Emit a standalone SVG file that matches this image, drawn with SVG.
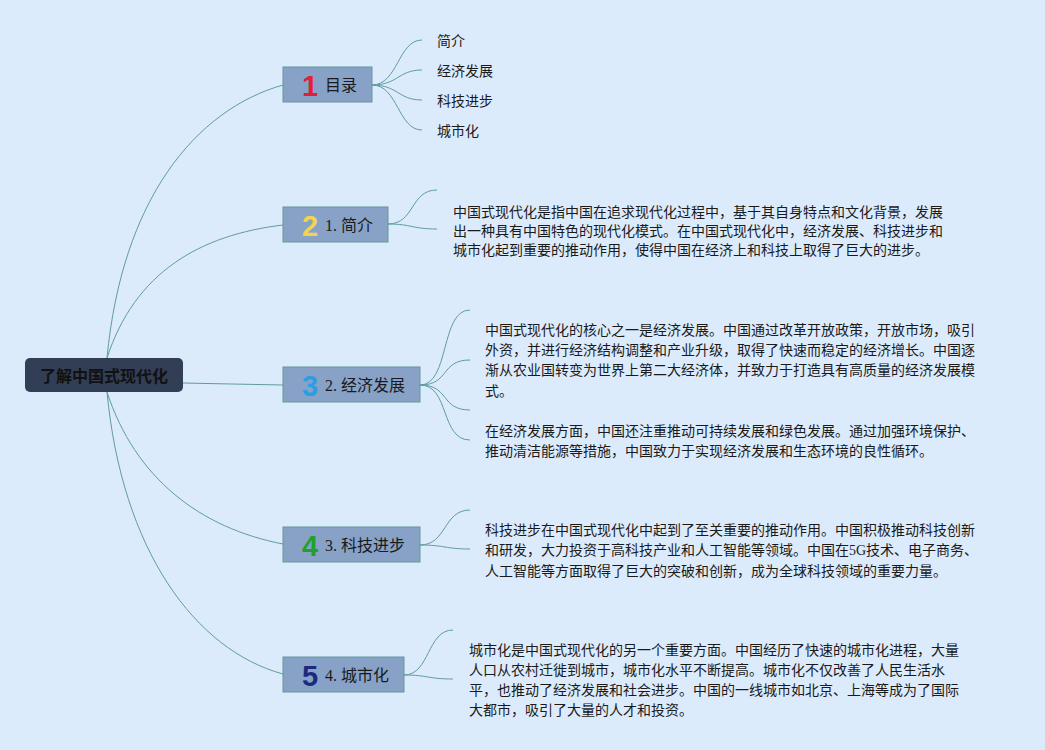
<svg xmlns="http://www.w3.org/2000/svg" width="1045" height="750" viewBox="0 0 1045 750">
<style>
.bg{fill:#dcebfb}
.c{fill:none;stroke:#5f9c9f;stroke-width:1}
.box{fill:#87a2c6;stroke:#5e9a9c;stroke-width:1}
.num{font-family:"Liberation Sans",Arial,sans-serif;font-weight:bold;font-size:29px;text-anchor:middle}
.lbl{font-family:"Liberation Serif","Noto Sans CJK SC",sans-serif;font-size:16px;fill:#1a1a1a}
.sub{font-family:"Liberation Serif","Noto Sans CJK SC",sans-serif;font-size:14px;fill:#1a1a1a}
.p{font-family:"Liberation Serif","Noto Sans CJK SC",sans-serif;font-size:14px;fill:#1a1a1a}
</style>
<rect class="bg" x="0" y="0" width="1045" height="750"/>
<g id="connectors">
<path class="c" d="M107,358 C122,200 195,110 283,85"/>
<path class="c" d="M107,358 C135,272 200,235 283,225"/>
<path class="c" d="M183,383 Q230,384 283,385"/>
<path class="c" d="M107,392 C135,478 200,528 283,544"/>
<path class="c" d="M107,392 C122,550 195,650 283,674"/>
<path class="c" d="M372,85 C398,85 398,40 422,40"/>
<path class="c" d="M372,85 C398,85 398,70 422,70"/>
<path class="c" d="M372,85 C398,85 398,100 422,100"/>
<path class="c" d="M372,85 C398,85 398,130 422,130"/>
<path class="c" d="M388,224 C415,224 410,190 437,190"/>
<path class="c" d="M388,224 C412,224 412,229 437,229"/>
<path class="c" d="M420,385 C450,385 440,310 470,310"/>
<path class="c" d="M420,385 C450,385 440,360 470,360"/>
<path class="c" d="M420,385 C450,385 440,410 470,410"/>
<path class="c" d="M420,385 C450,385 440,440 470,440"/>
<path class="c" d="M420,545 C447,545 443,510 470,510"/>
<path class="c" d="M420,545 C445,545 445,549 470,549"/>
<path class="c" d="M404,675 C430,675 427,630 453,630"/>
<path class="c" d="M404,675 C428,675 428,679 453,679"/>
</g>
<g id="root">
<rect x="25" y="358" width="158" height="34" rx="5" fill="#323e55"/>
<text x="104" y="382" text-anchor="middle" font-family="'Noto Sans CJK SC',sans-serif" font-weight="bold" font-size="16" fill="#111111">了解中国式现代化</text>
</g>
<g id="node-mulu">
<rect class="box" x="283" y="67" width="89" height="35"/>
<text class="num" x="310" y="96" fill="#e01f3a">1</text>
<text class="lbl" x="325" y="91">目录</text>
</g>
<g id="mulu-items">
<text class="sub" x="437" y="46">简介</text>
<text class="sub" x="437" y="76">经济发展</text>
<text class="sub" x="437" y="106">科技进步</text>
<text class="sub" x="437" y="136">城市化</text>
</g>
<g id="node-jianjie">
<rect class="box" x="283" y="207" width="105" height="35"/>
<text class="num" x="310" y="236" fill="#f3d54c">2</text>
<text class="lbl" x="325" y="231">1. 简介</text>
</g>
<g id="text-jianjie">
<text class="p" x="453" y="217">中国式现代化是指中国在追求现代化过程中，基于其自身特点和文化背景，发展</text>
<text class="p" x="453" y="236">出一种具有中国特色的现代化模式。在中国式现代化中，经济发展、科技进步和</text>
<text class="p" x="453" y="255">城市化起到重要的推动作用，使得中国在经济上和科技上取得了巨大的进步。</text>
</g>
<g id="node-jingji">
<rect class="box" x="283" y="367" width="137" height="35"/>
<text class="num" x="310" y="396" fill="#2a9ee0">3</text>
<text class="lbl" x="325" y="391">2. 经济发展</text>
</g>
<g id="text-jingji">
<text class="p" x="485" y="335">中国式现代化的核心之一是经济发展。中国通过改革开放政策，开放市场，吸引</text>
<text class="p" x="485" y="355">外资，并进行经济结构调整和产业升级，取得了快速而稳定的经济增长。中国逐</text>
<text class="p" x="485" y="375">渐从农业国转变为世界上第二大经济体，并致力于打造具有高质量的经济发展模</text>
<text class="p" x="485" y="396">式。</text>
<text class="p" x="485" y="436">在经济发展方面，中国还注重推动可持续发展和绿色发展。通过加强环境保护、</text>
<text class="p" x="485" y="456">推动清洁能源等措施，中国致力于实现经济发展和生态环境的良性循环。</text>
</g>
<g id="node-keji">
<rect class="box" x="283" y="527" width="137" height="35"/>
<text class="num" x="310" y="556" fill="#21a02b">4</text>
<text class="lbl" x="325" y="551">3. 科技进步</text>
</g>
<g id="text-keji">
<text class="p" x="485" y="535">科技进步在中国式现代化中起到了至关重要的推动作用。中国积极推动科技创新</text>
<text class="p" x="485" y="555">和研发，大力投资于高科技产业和人工智能等领域。中国在5G技术、电子商务、</text>
<text class="p" x="485" y="576">人工智能等方面取得了巨大的突破和创新，成为全球科技领域的重要力量。</text>
</g>
<g id="node-chengshi">
<rect class="box" x="283" y="657" width="121" height="35"/>
<text class="num" x="310" y="686" fill="#1b2a7e">5</text>
<text class="lbl" x="325" y="681">4. 城市化</text>
</g>
<g id="text-chengshi">
<text class="p" x="469" y="655">城市化是中国式现代化的另一个重要方面。中国经历了快速的城市化进程，大量</text>
<text class="p" x="469" y="675">人口从农村迁徙到城市，城市化水平不断提高。城市化不仅改善了人民生活水</text>
<text class="p" x="469" y="695">平，也推动了经济发展和社会进步。中国的一线城市如北京、上海等成为了国际</text>
<text class="p" x="469" y="715">大都市，吸引了大量的人才和投资。</text>
</g>
</svg>
